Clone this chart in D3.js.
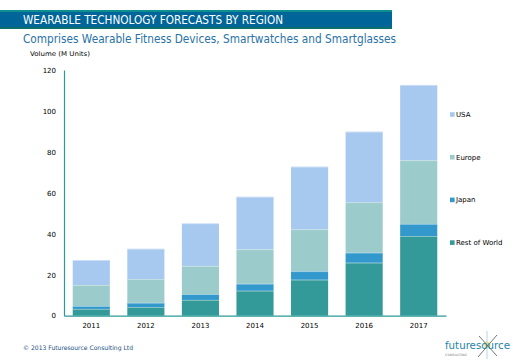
<!DOCTYPE html>
<html><head><meta charset="utf-8">
<script src="https://cdn.jsdelivr.net/npm/d3@7"></script>
<style>body{margin:0;background:#fff}svg{display:block}text{font-family:"DejaVu Sans",Verdana,sans-serif}</style>
</head><body><svg id="c" width="520" height="360"></svg>
<script>
const years = ["2011","2012","2013","2014","2015","2016","2017"];
const seriesNames = ["Rest of World","Japan","Europe","USA"];
const restOfWorld = [3.3, 4.2, 7.7, 12.2, 17.6, 25.9, 38.9];
const japan       = [1.4, 2.1, 2.8, 3.4, 4.1, 4.9, 5.9];
const europe      = [10.3, 11.6, 13.8, 16.8, 20.5, 24.6, 31.1];
const usa         = [12.2, 14.8, 20.8, 25.7, 30.6, 34.5, 36.8];
const yTicks = [0, 20, 40, 60, 80, 100, 120];
const colors = {"Rest of World":"#339a99","Japan":"#3399cc","Europe":"#9bcccb","USA":"#a8c9ef"};

const table = years.map((y,i)=>({year:y,"Rest of World":restOfWorld[i],"Japan":japan[i],"Europe":europe[i],"USA":usa[i]}));
const svg = d3.select("#c");

// title bar
svg.append("rect").attr("x",0).attr("y",10).attr("width",392).attr("height",19).attr("fill","#0d8f8f");
svg.append("rect").attr("x",0).attr("y",12).attr("width",392).attr("height",15).attr("fill","#006699");
svg.append("rect").attr("x",0).attr("y",27).attr("width",392).attr("height",2).attr("fill","#0b6f6a");
svg.append("text").attr("x",23).attr("y",24).attr("fill","#fff").attr("font-size",12)
  .attr("textLength",260).attr("lengthAdjust","spacingAndGlyphs").text("WEARABLE TECHNOLOGY FORECASTS BY REGION");
svg.append("text").attr("x",23).attr("y",43).attr("fill","#2a72a6").attr("font-size",12)
  .attr("textLength",373).attr("lengthAdjust","spacingAndGlyphs").text("Comprises Wearable Fitness Devices, Smartwatches and Smartglasses");
svg.append("text").attr("x",30).attr("y",56).attr("fill","#000").attr("font-size",6.5)
  .attr("textLength",60).attr("lengthAdjust","spacingAndGlyphs").text("Volume  (M Units)");

const x = d3.scaleBand().domain(years).range([64,446]).paddingInner(0.32).paddingOuter(0.16);
const y = d3.scaleLinear().domain([0,120]).range([315.7,70]);

const stack = d3.stack().keys(seriesNames)(table);
const g = svg.append("g");
stack.forEach(s=>{
  g.selectAll(null).data(s).enter().append("rect")
   .attr("x",d=>x(d.data.year)).attr("width",x.bandwidth())
   .attr("y",d=>y(d[1])).attr("height",d=>y(d[0])-y(d[1]))
   .attr("fill",colors[s.key]);
  g.selectAll(null).data(s).enter().append("rect")
   .attr("x",d=>x(d.data.year)).attr("width",x.bandwidth())
   .attr("y",d=>y(d[1])).attr("height",0.8)
   .attr("fill","#ffffff").attr("opacity",0.5);
});

// axes
const yAxis = svg.append("g").attr("transform","translate(64,0)")
  .call(d3.axisLeft(y).tickValues(yTicks).tickSize(0).tickPadding(8));
yAxis.select(".domain").attr("stroke","#2a9a96").attr("stroke-width",1.2);
yAxis.selectAll("text").attr("font-size",7).attr("fill","#000");
const xAxis = svg.append("g").attr("transform","translate(0,315.7)")
  .call(d3.axisBottom(x).tickSize(0).tickPadding(7));
xAxis.select(".domain").attr("stroke","#2a9a96").attr("stroke-width",1.2);
xAxis.selectAll("text").attr("font-size",7).attr("fill","#000");

// legend
const legendOrder = ["USA","Europe","Japan","Rest of World"];
const lg = svg.append("g");
legendOrder.forEach((k,i)=>{
  const cy = 114.5 + i*42.7;
  lg.append("rect").attr("x",450).attr("y",cy-2.3).attr("width",4.6).attr("height",4.6).attr("fill",colors[k]);
  lg.append("text").attr("x",456).attr("y",cy+2.5).attr("font-size",7).attr("fill","#000").text(k);
});

// footer
svg.append("text").attr("x",23).attr("y",349.5).attr("font-size",6.2).attr("fill","#1d4f80")
  .attr("textLength",110).attr("lengthAdjust","spacingAndGlyphs").text("© 2013 Futuresource Consulting Ltd");

// logo
const logo = svg.append("g");
logo.append("circle").attr("cx",487).attr("cy",345).attr("r",3.5).attr("fill","#ffe27a").attr("opacity",0.8);
logo.append("line").attr("x1",479).attr("y1",336).attr("x2",497).attr("y2",356).attr("stroke","#2d3e50").attr("stroke-width",0.7);
logo.append("line").attr("x1",497).attr("y1",335).attr("x2",478).attr("y2",357).attr("stroke","#2d3e50").attr("stroke-width",0.7);
logo.append("line").attr("x1",487).attr("y1",331).attr("x2",487).attr("y2",359).attr("stroke","#6fa8c8").attr("stroke-width",0.5);
logo.append("text").attr("x",445).attr("y",349).attr("font-size",11).attr("fill","#1f84a8")
  .attr("textLength",65).attr("lengthAdjust","spacingAndGlyphs").text("futuresource");
logo.append("text").attr("x",445).attr("y",355.5).attr("font-size",3.2).attr("fill","#777")
  .attr("textLength",22).attr("lengthAdjust","spacingAndGlyphs").text("CONSULTING");
</script></body></html>
